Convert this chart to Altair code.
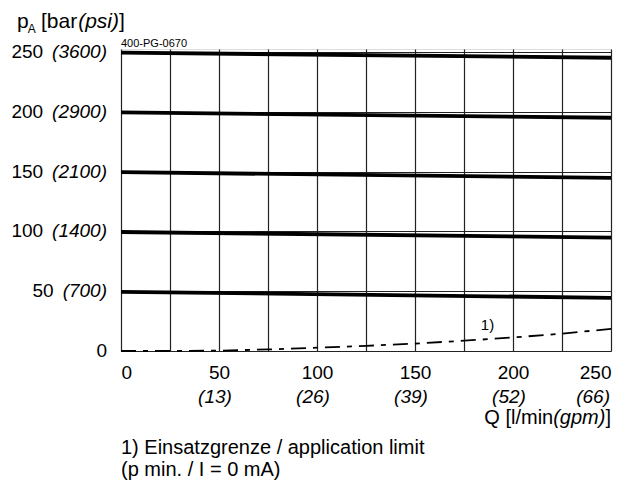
import altair as alt
import pandas as pd

# ---------------- data ----------------
flow_ends = [0, 250]                                   # l/min
curve_nominal = [50, 100, 150, 200, 250]               # bar
curve_p_at_0 = [49.5, 99.5, 149.5, 199.5, 249.5]       # bar at Q = 0
curve_p_at_250 = [44.5, 94.8, 144.8, 195.0, 245.2]     # bar at Q = 250

limit_q = [0, 25, 50, 75, 100, 125, 150, 175, 200, 225, 250]
limit_p = [0, 0, 0.3, 1.3, 2.8, 4.3, 6.2, 8.6, 11.3, 14.5, 18.5]

y_ticks_bar = [0, 50, 100, 150, 200, 250]
y_ticks_psi = ["", "(700)", "(1400)", "(2100)", "(2900)", "(3600)"]
x_grid = [0, 25, 50, 75, 100, 125, 150, 175, 200, 225, 250]
x_ticks_gpm_q = [50, 100, 150, 200, 250]
x_ticks_gpm = ["(13)", "(26)", "(39)", "(52)", "(66)"]

note_q, note_p, note_text = 187, 22, "1)"
footnote_1 = "1) Einsatzgrenze / application limit"
footnote_2 = "(p min. / I = 0 mA)"
code_text = "400-PG-0670"

# ---------------- styling ----------------
FONT = "Liberation Sans"
FS = 19
FT = 20
W, H = 490, 302

_cw = {c: 0.556 for c in "0123456789"}
_cw.update({"(": 0.333, ")": 0.333, " ": 0.278, "[": 0.278, "]": 0.278,
            "/": 0.278, "l": 0.222, "i": 0.222, "m": 0.833, "n": 0.556,
            "g": 0.556, "p": 0.556, "Q": 0.778, "b": 0.556, "a": 0.556,
            "r": 0.333, "s": 0.5})


def tw(s, size=FS):
    return sum(_cw.get(c, 0.556) for c in s) * size


xs = alt.Scale(domain=[0, 250], nice=False, zero=False)
ys = alt.Scale(domain=[0, 252.5], nice=False, zero=False)

rows = []
for nom, p0, p1 in zip(curve_nominal, curve_p_at_0, curve_p_at_250):
    rows.append({"s": nom, "q": flow_ends[0], "p": p0})
    rows.append({"s": nom, "q": flow_ends[1], "p": p1})
curves = pd.DataFrame(rows)
limit = pd.DataFrame({"q": limit_q, "p": limit_p})
ylab = pd.DataFrame({"p": y_ticks_bar, "psi": y_ticks_psi})
xlab = pd.DataFrame({"q": x_ticks_gpm_q, "t": x_ticks_gpm})
one = pd.DataFrame({"k": [0]})

base_x = alt.X("q:Q", scale=xs, axis=alt.Axis(
    values=x_grid, grid=True, ticks=False, domain=False, title=None,
    labelExpr="datum.value % 50 == 0 ? datum.label : ''",
    labelFont=FONT, labelFontSize=FS, labelColor="black",
    labelBaseline="alphabetic", labelPadding=27, labelFlush=True,
    labelOverlap=False, gridColor="#222", gridWidth=1.2))
base_y = alt.Y("p:Q", scale=ys, axis=alt.Axis(
    values=y_ticks_bar, grid=True, ticks=False, domain=False, labels=False,
    title=None, gridColor="#222", gridWidth=1.2))

lines = alt.Chart(curves).mark_line(color="black", strokeWidth=3.8).encode(
    x=base_x, y=base_y, detail="s:N")

dash = alt.Chart(limit).mark_line(color="black", strokeWidth=1.8,
                                  strokeDash=[15, 7, 5, 7]).encode(
    x=alt.X("q:Q", scale=xs), y=alt.Y("p:Q", scale=ys))

note = alt.Chart(pd.DataFrame({"q": [note_q], "p": [note_p], "t": [note_text]})).mark_text(
    font=FONT, fontSize=15, color="black").encode(
    x=alt.X("q:Q", scale=xs), y=alt.Y("p:Q", scale=ys), text="t:N")

layers = [lines, dash, note]

# y labels: psi part (italic) and bar part
layers.append(alt.Chart(ylab).mark_text(
    font=FONT, fontSize=FS, fontStyle="italic", align="right", baseline="middle",
    color="black").encode(x=alt.value(-14), y=alt.Y("p:Q", scale=ys), text="psi:N"))
for bar, psi in zip(y_ticks_bar, y_ticks_psi):
    off = -14 - (tw(psi) + 9 if psi else 0)
    layers.append(alt.Chart(ylab).transform_filter(alt.datum.p == bar).mark_text(
        font=FONT, fontSize=FS, align="right", baseline="middle", color="black").encode(
        x=alt.value(off), y=alt.Y("p:Q", scale=ys), text="p:N"))

# x second row (gpm, italic)
layers.append(alt.Chart(xlab).transform_filter(alt.datum.q < 250).mark_text(
    font=FONT, fontSize=FS, fontStyle="italic", align="center", baseline="alphabetic",
    dx=-4, color="black").encode(x=alt.X("q:Q", scale=xs), y=alt.value(H + 52), text="t:N"))
layers.append(alt.Chart(xlab).transform_filter(alt.datum.q == 250).mark_text(
    font=FONT, fontSize=FS, fontStyle="italic", align="right", baseline="alphabetic",
    dx=-1, color="black").encode(x=alt.X("q:Q", scale=xs), y=alt.value(H + 52), text="t:N"))


def label(text, x, y, size=FS, style="normal", align="left"):
    return alt.Chart(one).mark_text(
        text=text, font=FONT, fontSize=size, fontStyle=style, align=align,
        baseline="alphabetic", color="black").encode(x=alt.value(x), y=alt.value(y))


# x axis title: Q [l/min(gpm)]
xr = W
layers.append(label("]", xr, H + 73, size=FT, align="right"))
layers.append(label("(gpm)", xr - tw("]", FT), H + 73, size=FT, style="italic", align="right"))
layers.append(label("Q [l/min", xr - tw("]", FT) - tw("(gpm)", FT), H + 73, size=FT,
                    align="right"))

# y axis title: p_A [bar(psi)]
TT = 21
layers.append(label("p", -104, -21, size=TT))
layers.append(label("A", -104 + tw("p", TT) - 1, -16, size=12))
layers.append(label("[bar", -80, -21, size=TT))
layers.append(label("(psi)", -80 + tw("[bar", TT) + 1, -21, size=TT, style="italic"))
layers.append(label("]", -80 + tw("[bar", TT) + 1 + tw("(psi)", TT), -21, size=TT))

# code and footnotes
layers.append(label(code_text, 0, -2, size=11))
layers.append(label(footnote_1, 0, H + 103, size=FT))
layers.append(label(footnote_2, 0, H + 125, size=FT))

chart = alt.layer(*layers).properties(
    width=W, height=H,
    autosize=alt.AutoSizeParams(type="none"),
    padding={"left": 113, "top": 41, "right": 3, "bottom": 137},
).configure_view(stroke="black", strokeWidth=1.4).configure(background="white")

chart.save("out.html", embed_options={"renderer": "svg", "actions": False})
